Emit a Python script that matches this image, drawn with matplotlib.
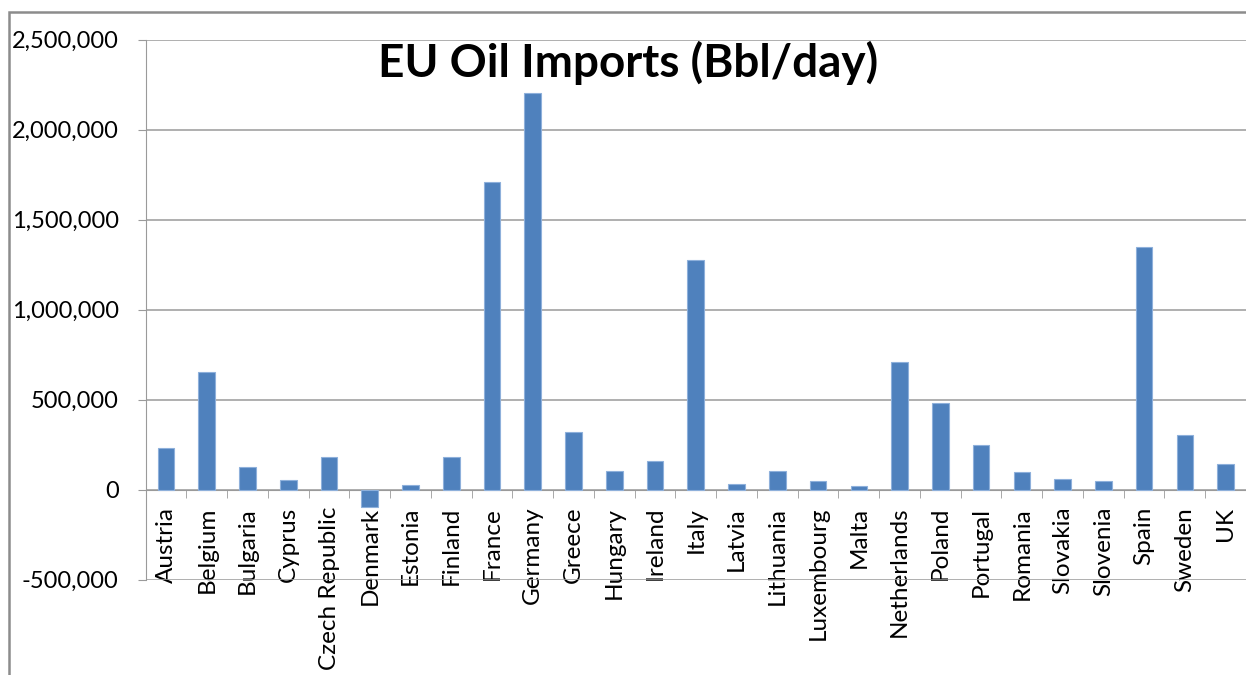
import matplotlib
matplotlib.use("Agg")
import matplotlib.pyplot as plt
from matplotlib.patches import Rectangle
from matplotlib.ticker import FuncFormatter, MultipleLocator

countries = [
    "Austria", "Belgium", "Bulgaria", "Cyprus", "Czech Republic", "Denmark",
    "Estonia", "Finland", "France", "Germany", "Greece", "Hungary", "Ireland",
    "Italy", "Latvia", "Lithuania", "Luxembourg", "Malta", "Netherlands",
    "Poland", "Portugal", "Romania", "Slovakia", "Slovenia", "Spain",
    "Sweden", "UK",
]
imports_bbl_day = [
    231000, 654000, 125000, 52000, 181000, -95000,
    25000, 181000, 1710000, 2205000, 318000, 103000, 160000,
    1275000, 32000, 103000, 47000, 19000, 710000,
    482000, 245000, 97000, 61000, 47000, 1345000,
    303000, 139000,
]

plt.rcParams["font.family"] = ["Lato", "DejaVu Sans"]
grid_color = "#9a9a9a"

fig = plt.figure(figsize=(12.46, 6.75), dpi=100)
# chart-area border (cropped on right and bottom in the original)
fig.patches.append(Rectangle((9 / 1246, -0.2), 1.5, 1.2 - 12 / 675,
                             transform=fig.transFigure, fill=False,
                             edgecolor="#8c8c8c", linewidth=1.8))

ax = fig.add_axes([145.7 / 1246, 1 - 579.5 / 675, 1 - 145.7 / 1246, 540 / 675])
x = range(len(countries))
ax.bar(x, imports_bbl_day, width=0.41, color="#4f81bd",
       edgecolor="#8eb0db", linewidth=0.8, zorder=3)

ax.set_xlim(-0.5, len(countries) - 0.5)
ax.set_ylim(-500000, 2500000)
ax.yaxis.set_major_locator(MultipleLocator(500000))
ax.yaxis.set_major_formatter(FuncFormatter(lambda v, p: f"{v:,.0f}"))
ax.grid(axis="y", color=grid_color, linewidth=1.1, zorder=0)
ax.set_axisbelow(True)

for side in ["top", "right"]:
    ax.spines[side].set_visible(False)
ax.spines["left"].set_color(grid_color)
ax.spines["bottom"].set_color(grid_color)
ax.spines["bottom"].set_position(("data", 0))

ax.tick_params(axis="y", length=6, color=grid_color, pad=13.5,
               labelsize=17, labelcolor="black")
ax.set_xticks(list(x))
ax.set_xticklabels(countries, rotation=90, va="top", ha="center")
ax.set_xticks([i - 0.5 for i in range(len(countries) + 1)], minor=True)
ax.tick_params(axis="x", which="major", length=0, pad=12.5,
               labelsize=17.5, labelcolor="black")
ax.tick_params(axis="x", which="minor", length=6, color=grid_color)

fig.text(628 / 1246, 1 - 63 / 675, "EU Oil Imports (Bbl/day)",
         ha="center", va="center", fontsize=33, fontweight="bold")

fig.savefig("out.png", dpi=100)
